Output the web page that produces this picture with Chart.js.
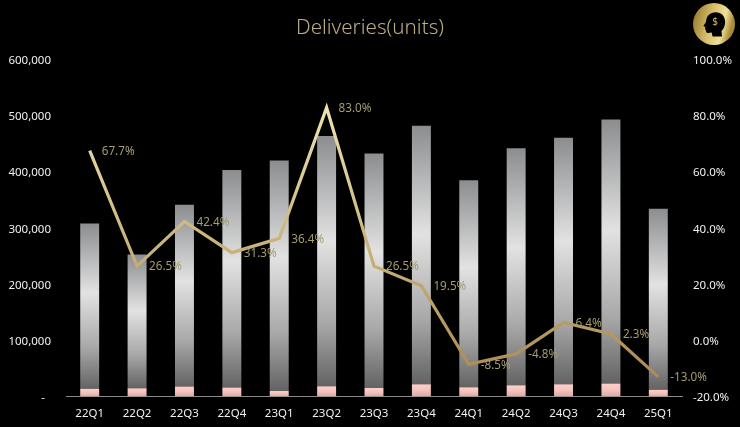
<!DOCTYPE html>
<html>
<head>
<meta charset="utf-8">
<title>Deliveries(units)</title>
<script src="https://cdn.jsdelivr.net/npm/chart.js@4"></script>
<style>
    html, body { margin: 0; padding: 0; background: #000; }
    #wrap { position: relative; width: 740px; height: 427px; overflow: hidden; }
    #logo { position: absolute; left: 692px; top: 2px; }
</style>
</head>
<body>
<div id="wrap">
    <canvas id="deliveriesChart" width="740" height="427"></canvas>
    <svg id="logo" width="44" height="44" viewBox="0 0 44 44">
        <defs>
            <linearGradient id="gold" x1="0" y1="0" x2="1" y2="0.25">
                <stop offset="0" stop-color="#8f7126"/>
                <stop offset="0.5" stop-color="#d8c06a"/>
                <stop offset="0.8" stop-color="#efe09a"/>
                <stop offset="1" stop-color="#a88a35"/>
            </linearGradient>
        </defs>
        <circle cx="22" cy="22" r="21" fill="url(#gold)"/>
        <path transform="translate(3 3) scale(0.9)" d="M23 8c-6 0-10.500 4-10.500 9.500 0 1.500-2.500 4.500-3 5.500 0 1 1.500 1 2 1.300l-.3 2.200c0 1 1 1.200 1 1.800 0 1.500.5 3 2.500 2.700l3.800-.5 1 4.500h10.500l-.5-6c2.500-2.500 4-6 4-10C33.500 12 29 8 23 8z" fill="#000"/>
        <text x="23" y="23" text-anchor="middle" font-family="Noto Sans" font-size="10" fill="#c8b26a">$</text>
    </svg>
</div>
<script>
// Chart data
const quarters = ['22Q1', '22Q2', '22Q3', '22Q4', '23Q1', '23Q2', '23Q3', '23Q4', '24Q1', '24Q2', '24Q3', '24Q4', '25Q1'];
const silverUnits = [295000, 238500, 324000, 388000, 411000, 446000, 418500, 461000, 369000, 422500, 439500, 471000, 323000];
const pinkUnits = [13700, 14900, 17800, 16000, 10000, 18400, 15000, 22000, 16600, 20000, 22000, 23000, 12000];
const growthRates = [67.7, 26.5, 42.4, 31.3, 36.4, 83.0, 26.5, 19.5, -8.5, -4.8, 6.4, 2.3, -13.0];

const TICK_FONT = { family: 'Noto Sans', size: 11.5 };
const LABEL_COLOR = '#a39c70';

// Gradient running down one bar, from its top value to its base value
function barGradient(context, stops, baseOf, topOf) {
    const scale = context.chart.scales.y;
    const i = context.dataIndex;
    if (!scale || i === undefined) return stops[0][1];
    const top = scale.getPixelForValue(topOf(i));
    const base = scale.getPixelForValue(baseOf(i));
    if (!isFinite(top) || !isFinite(base)) return stops[0][1];
    const gradient = context.chart.ctx.createLinearGradient(0, top, 0, base);
    stops.forEach(s => gradient.addColorStop(s[0], s[1]));
    return gradient;
}

// Line gets lighter towards the top of the chart
function lineGradient(context) {
    const area = context.chart.chartArea;
    if (!area) return '#c9b47c';
    const gradient = context.chart.ctx.createLinearGradient(0, 105, 0, 380);
    gradient.addColorStop(0, '#efe4ae');
    gradient.addColorStop(0.5, '#c9b37c');
    gradient.addColorStop(1, '#ab8a52');
    return gradient;
}

// Percent labels to the right of each line point
const growthLabels = {
    id: 'growthLabels',
    afterDatasetsDraw(chart) {
        const ctx = chart.ctx;
        const points = chart.getDatasetMeta(2).data;
        ctx.save();
        ctx.font = '11.7px "Noto Sans"';
        ctx.fillStyle = LABEL_COLOR;
        ctx.textAlign = 'left';
        ctx.textBaseline = 'middle';
        points.forEach((point, i) => {
            ctx.fillText(growthRates[i].toFixed(1) + '%', point.x + 12, point.y + 1);
        });
        ctx.restore();
    }
};

new Chart(document.getElementById('deliveriesChart'), {
    data: {
        labels: quarters,
        datasets: [
            {
                type: 'bar',
                data: pinkUnits,
                yAxisID: 'y',
                order: 2,
                barPercentage: 0.4,
                categoryPercentage: 1,
                backgroundColor: context => barGradient(context,
                    [[0, '#fbd0cc'], [0.5, '#f6c2bd'], [1, '#d9aaa4']],
                    () => 0, i => pinkUnits[i])
            },
            {
                type: 'bar',
                data: silverUnits,
                yAxisID: 'y',
                order: 2,
                barPercentage: 0.4,
                categoryPercentage: 1,
                backgroundColor: context => barGradient(context,
                    [[0, '#8b8d8f'], [0.42, '#e2e2e2'], [0.75, '#a8a8a8'], [1, '#636363']],
                    i => pinkUnits[i], i => pinkUnits[i] + silverUnits[i])
            },
            {
                type: 'line',
                data: growthRates,
                yAxisID: 'y1',
                order: 1,
                tension: 0,
                borderWidth: 3.2,
                pointRadius: 0,
                borderColor: lineGradient
            }
        ]
    },
    options: {
        responsive: false,
        animation: false,
        devicePixelRatio: 1,
        layout: { padding: 0 },
        plugins: {
            legend: { display: false },
            tooltip: { enabled: false },
            title: {
                display: true,
                text: 'Deliveries(units)',
                color: '#bcad84',
                font: { family: 'Noto Sans', size: 20.6, weight: '300', lineHeight: 1.2 },
                padding: { top: 15.5, bottom: 19.8 }
            }
        },
        scales: {
            x: {
                stacked: true,
                grid: { display: false, drawTicks: false },
                border: { color: '#8a8a8a', width: 1 },
                ticks: { color: '#f0f0f0', font: TICK_FONT, padding: 10, maxRotation: 0 },
                afterFit: scale => { scale.height = 30.5; }
            },
            y: {
                stacked: true,
                min: 0,
                max: 600000,
                grid: { display: false, drawTicks: false },
                border: { display: false },
                ticks: {
                    stepSize: 100000,
                    color: '#f0f0f0',
                    font: TICK_FONT,
                    padding: 15,
                    labelOffset: 1,
                    callback: v => v === 0 ? '-\u00a0\u00a0' : v.toLocaleString('en-US')
                },
                afterFit: scale => { scale.width = 66; }
            },
            y1: {
                position: 'right',
                min: -20,
                max: 100,
                grid: { display: false, drawTicks: false },
                border: { display: false },
                ticks: {
                    stepSize: 20,
                    color: '#f0f0f0',
                    font: TICK_FONT,
                    padding: 11,
                    labelOffset: 1,
                    callback: v => v.toFixed(1) + '%'
                },
                afterFit: scale => { scale.width = 58; }
            }
        }
    },
    plugins: [growthLabels]
});
</script>
</body>
</html>
